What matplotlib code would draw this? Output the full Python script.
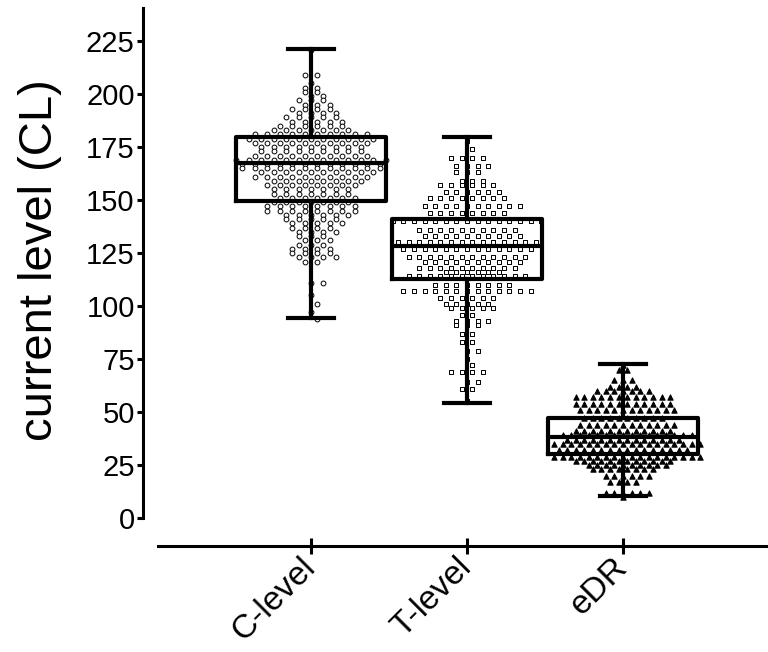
import numpy as np
import matplotlib.pyplot as plt

plt.rcParams['font.family'] = ['Liberation Sans', 'DejaVu Sans']

groups = ['C-level', 'T-level', 'eDR']

c_levels = [221, 209, 205, 203, 201, 199, 197, 195, 193, 191, 189, 187, 185, 183, 181,
            179, 177, 175, 173, 171, 169, 167, 165, 163, 161, 159, 157, 155, 153, 151,
            149, 147, 145, 143, 141, 139, 137, 135, 133, 131, 129, 127, 125, 123, 121,
            111, 105, 101, 97, 94]
c_counts = [1, 2, 1, 2, 2, 2, 3, 3, 4, 4, 5, 5, 6, 7, 10,
            11, 10, 9, 9, 10, 13, 12, 12, 10, 10, 8, 8, 7, 7, 7,
            7, 8, 8, 6, 5, 5, 4, 4, 3, 3, 3, 4, 4, 4, 2,
            2, 1, 1, 1, 1]

t_levels = [178, 174, 170, 166, 163, 159, 157, 154, 151, 147, 144, 140, 136, 133, 130,
            127, 123, 121, 118, 116, 114, 110, 107, 104, 101, 99, 96, 93, 91, 87,
            83, 79, 75, 72, 69, 64, 61, 55]
t_counts = [1, 1, 4, 4, 3, 3, 6, 6, 8, 10, 8, 15, 10, 10, 14,
            13, 12, 10, 10, 6, 12, 8, 13, 6, 5, 5, 2, 4, 3, 2,
            2, 2, 1, 1, 4, 2, 2, 1]

e_levels = [72, 70, 65, 62, 60, 57, 54, 51, 47, 44, 41, 39, 37, 35, 32,
            29, 27, 25, 23, 20, 17, 12, 10]
e_counts = [1, 2, 3, 4, 7, 12, 12, 12, 10, 12, 12, 16, 14, 18, 16,
            18, 12, 10, 8, 6, 4, 6, 1]

# box plot statistics (min, quartiles, median, max)
box_min = [94.5, 54.1, 10.5]
box_q1 = [149.5, 112.9, 30.0]
box_med = [167.3, 128.3, 38.0]
box_q3 = [179.6, 140.9, 47.0]
box_max = [221.2, 179.6, 72.6]

fig = plt.figure(figsize=(7.68, 6.52), dpi=100)
ax = fig.add_axes([143 / 768, 106 / 652, 625 / 768, 538 / 652])

spacings = [0.08, 0.068, 0.055]
markers = ['o', 's', '^']
faces = ['white', 'white', 'black']
sizes = [12, 12, 15]
for i, (lv, ct) in enumerate([(c_levels, c_counts), (t_levels, t_counts), (e_levels, e_counts)]):
    xs, ys = [], []
    sp = spacings[i]
    for j, (y, n) in enumerate(zip(lv, ct)):
        # stagger neighbouring rows so the swarm doesn't line up in columns
        shift = sp / 2 if (j % 2 == 1 and n % 2 == ct[j - 1] % 2) else 0
        for k in range(n):
            xs.append(i + (k - (n - 1) / 2) * sp + shift)
            ys.append(y)
    ax.scatter(xs, ys, marker=markers[i], s=sizes[i], facecolors=faces[i],
               edgecolors='black', linewidths=0.7, zorder=2)

stats = []
for i in range(3):
    stats.append(dict(med=box_med[i], q1=box_q1[i], q3=box_q3[i],
                      whislo=box_min[i], whishi=box_max[i], fliers=[]))
lw = 3.0
ax.bxp(stats, positions=[0, 1, 2], widths=0.96, capwidths=0.29, showfliers=False,
       boxprops=dict(color='black', linewidth=lw),
       whiskerprops=dict(color='black', linewidth=lw),
       capprops=dict(color='black', linewidth=lw),
       medianprops=dict(color='black', linewidth=lw),
       manage_ticks=False, zorder=3)

ax.set_xlim(-1.077, 2.93)
ax.set_ylim(-13.2, 240.6)
for s in ['top', 'right']:
    ax.spines[s].set_visible(False)
ax.spines['left'].set_bounds(0, 240.6)
ax.spines['bottom'].set_bounds(-0.98, 2.93)
ax.spines['left'].set_linewidth(2.2)
ax.spines['bottom'].set_linewidth(2.2)

ax.set_yticks(range(0, 226, 25))
ax.tick_params(axis='y', direction='out', length=4.5, width=2.2, pad=1.5, labelsize=21)
ax.set_xticks([0, 1, 2])
ax.set_xticklabels(groups, rotation=45, ha='right', va='center', rotation_mode='anchor')
ax.tick_params(axis='x', direction='inout', length=12, width=2.2, pad=6, labelsize=24)

fig.text(40 / 768, 1 - 260 / 652, 'current level (CL)', rotation=90,
         ha='center', va='center', fontsize=34)

fig.savefig('out.png', dpi=100)
